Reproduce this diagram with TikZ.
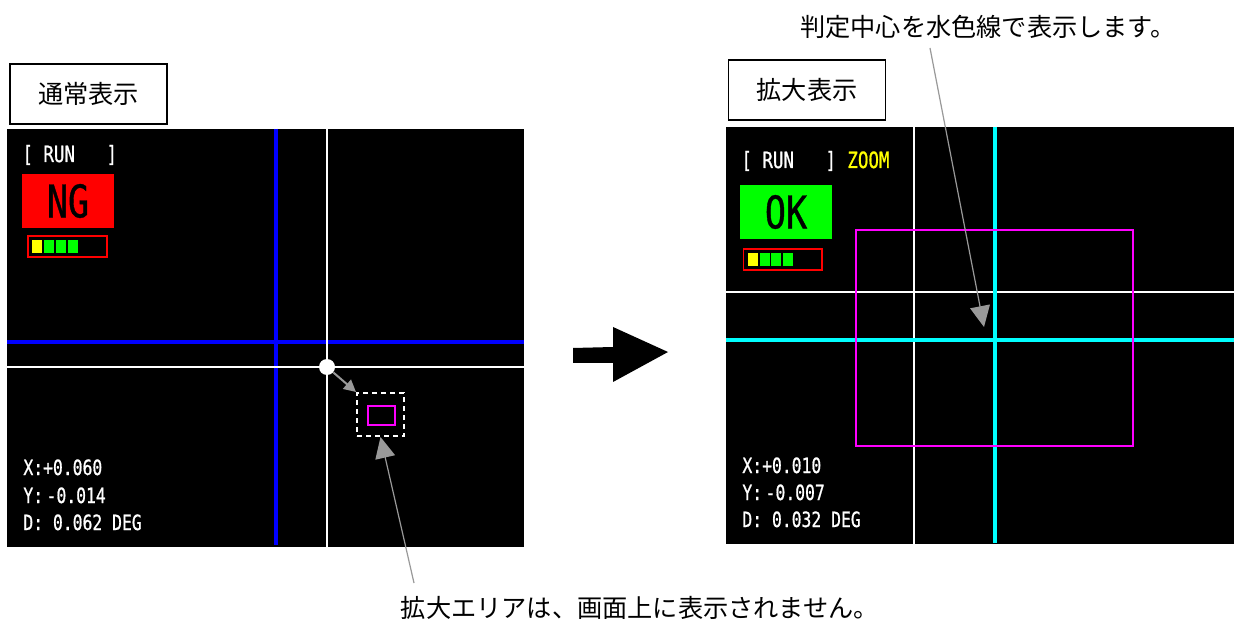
\documentclass[tikz,border=0pt]{standalone}
\usepackage{fontspec}
\setmainfont{Noto Sans CJK JP}
\newfontfamily\scrfont[FakeStretch=0.78,FakeBold=0.8]{DejaVu Sans Mono}
\usetikzlibrary{arrows.meta,positioning}
\definecolor{scrblue}{HTML}{0000FF}
\definecolor{scrcyan}{HTML}{00FFFF}
\definecolor{scrmag}{HTML}{FF00FF}
\definecolor{scrred}{HTML}{FF0000}
\definecolor{scrgreen}{HTML}{00FF00}
\definecolor{scryellow}{HTML}{FFFF00}
\definecolor{ptrgray}{HTML}{999999}
\tikzset{
    every node/.style={inner sep=0pt},
    screen/.style={fill=black},
    crossblue/.style={draw=scrblue,line width=2.2pt},
    crosscyan/.style={draw=scrcyan,line width=2.3pt},
    crosswhite/.style={draw=white,line width=0.8pt},
    areabox/.style={draw=scrmag,line width=1pt},
    lblbox/.style={draw=black,line width=0.9pt,minimum width=78.5pt,minimum height=30pt,font=\fontsize{12.6}{15}\selectfont},
    note/.style={font=\fontsize{12.6}{15}\selectfont},
    scrtext/.style={anchor=base west,text=white,font=\scrfont\fontsize{10.5}{12}\selectfont},
    runtext/.style={anchor=base west,text=white,font=\scrfont\fontsize{11.2}{13}\selectfont},
    judge/.style={minimum width=46pt,minimum height=27pt,text=black,font=\scrfont\fontsize{22.5}{24}\selectfont},
    meter/.style={draw=scrred,line width=0.8pt},
    dashbox/.style={draw=white,line width=1pt,dash pattern=on 2.5pt off 2pt,minimum width=23.5pt,minimum height=21.5pt},
    pointer/.style={draw=ptrgray,line width=0.6pt,-{Triangle[length=10.5pt,width=10pt]}},
    minipointer/.style={draw=ptrgray,line width=1pt,-{Triangle[length=6pt,width=6pt]}}
}
\begin{document}
\begin{tikzpicture}[x=0.5pt,y=-0.5pt]
\fill[white] (0,0) rectangle (1234,624);
\useasboundingbox (0,0) rectangle (1234,624);

% normal view
\fill[screen] (7,129) rectangle (524,547);
\draw[crossblue] (276,129) -- (276,545);
\draw[crossblue] (7,342) -- (524,342);
\draw[crosswhite] (327,129) -- (327,547);
\draw[crosswhite] (7,367) -- (524,367);
\node[circle,fill=white,minimum size=8pt] (lcenter) at (327,367) {};
\node[dashbox] (zoomarea) at (380.5,414.5) {};
\draw[areabox] (368,406) rectangle (395,425);
\node[runtext] (lrun) at (22,162) {[ RUN\ \ \ ]};
\node[judge,fill=scrred] (ngbox) at (68,201) {NG};
\draw[meter] (28,236) rectangle (107,257);
\foreach \i/\c in {0/scryellow,1/scrgreen,2/scrgreen,3/scrgreen}
    \fill[\c] ({32+\i*12},240) rectangle +(10,13);
\node[scrtext] (lx) at (23,475) {X:+0.060};
\node[scrtext] (ly) at (23,503) {Y:\,-0.014};
\node[scrtext] (ld) at (23,530) {D:\ 0.062 DEG};
\node[lblbox] (normlbl) at (88.5,94) {通常表示};

% zoom view
\fill[screen] (726,127) rectangle (1234,544);
\draw[crosswhite] (914,127) -- (914,544);
\draw[crosswhite] (726,292) -- (1234,292);
\draw[crosscyan] (995,127) -- (995,543);
\draw[crosscyan] (726,340) -- (1234,340);
\draw[areabox,line width=0.8pt] (856,230) rectangle (1133,446);
\node[runtext] (rrun) at (741,168) {[ RUN\ \ \ ]};
\node[runtext,text=scryellow] (rzoom) at (847,168) {ZOOM};
\node[judge,fill=scrgreen] (okbox) at (786,212) {OK};
\draw[meter] (743.5,249) rectangle (822,270);
\foreach \i/\c in {0/scryellow,1/scrgreen,2/scrgreen,3/scrgreen}
    \fill[\c] ({748+\i*11.7},253) rectangle +(10,13);
\node[scrtext] (rx) at (742,473) {X:+0.010};
\node[scrtext] (ry) at (742,500) {Y:\,-0.007};
\node[scrtext] (rd) at (742,527) {D:\ 0.032 DEG};
\node[lblbox] (zoomlbl) at (807,90) {拡大表示};

% big arrow between the views
\fill[black] (573,348) -- (613,347) -- (613,327) -- (668,352) -- (613,382) -- (613,363) -- (573,363) -- cycle;

% notes
\node[note] (topnote) at (988,27) {判定中心を水色線で表示します。};
\node[note] (botnote) at (640,608) {拡大エリアは、画面上に表示されません。};
\coordinate (ltail) at (414,583);
\coordinate (rtail) at (930,48);
\coordinate (rtip) at (984,327);
\draw[minipointer] (lcenter) -- (zoomarea.north west);
\draw[pointer] (ltail) -- (zoomarea.south);
\draw[pointer] (rtail) -- (rtip);
\end{tikzpicture}
\end{document}
